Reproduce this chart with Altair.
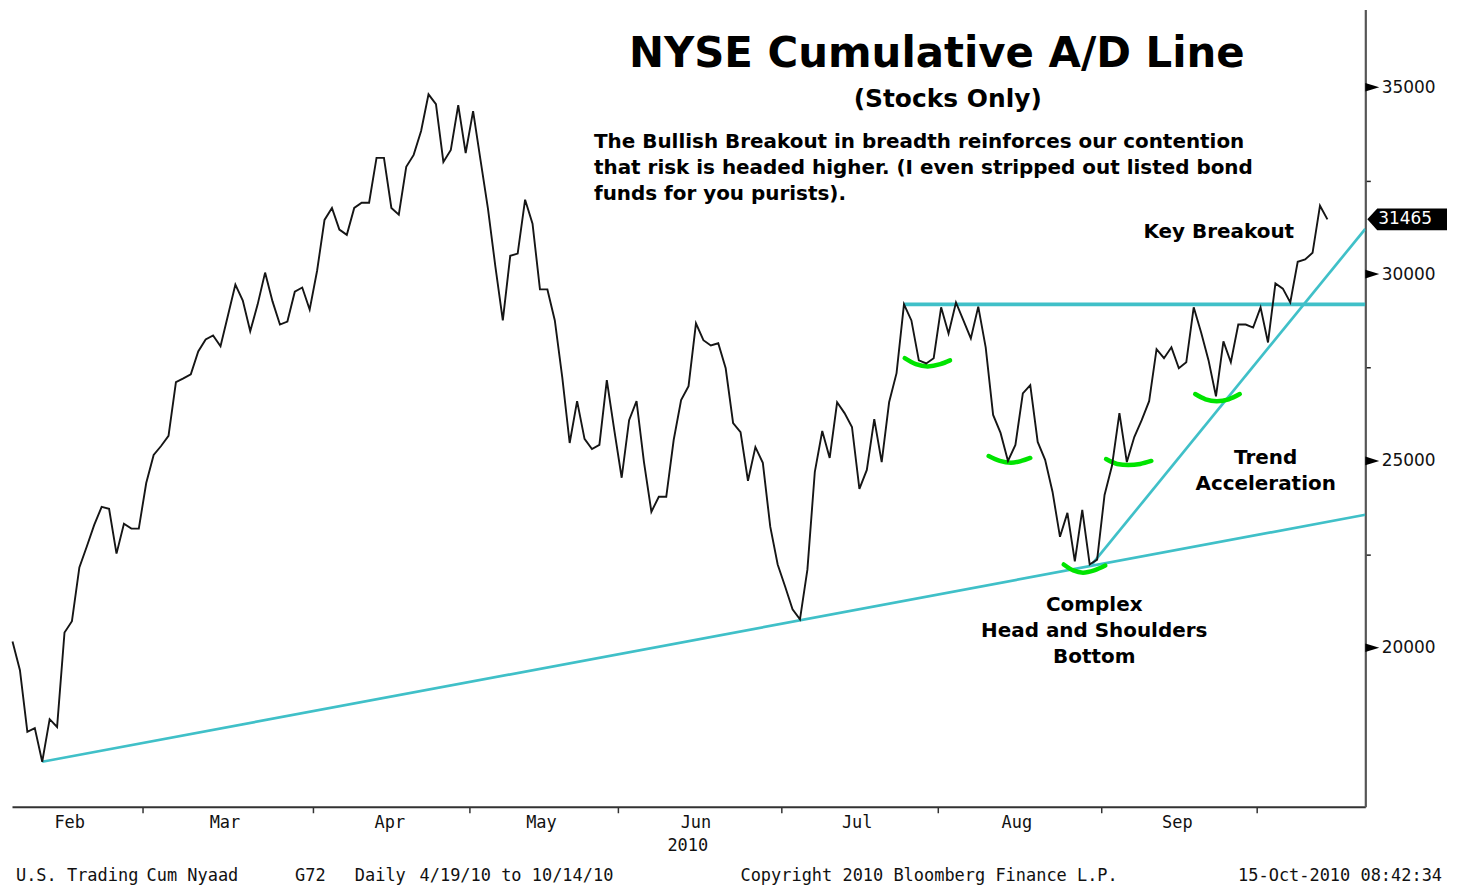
import altair as alt
import pandas as pd

# ---------------- data ----------------
ad_values = [
    20170, 19400, 17750, 17850, 16950, 18090, 17880, 20410, 20710, 22150,
    22710, 23290, 23770, 23720, 22520, 23320, 23190, 23190, 24410, 25160,
    25400, 25670, 27110, 27210, 27320, 27930, 28250, 28360, 28070, 28890,
    29720, 29290, 28470, 29190, 30040, 29270, 28650, 28730, 29530, 29640,
    29050, 30090, 31450, 31770, 31190, 31050, 31770, 31910, 31910, 33110,
    33110, 31770, 31590, 32870, 33190, 33830, 34810, 34550, 33000, 33320,
    34520, 33240, 34360, 33050, 31750, 30200, 28760, 30490, 30550, 31990,
    31350, 29590, 29590, 28760, 27240, 25480, 26600, 25590, 25320, 25430,
    27160, 25830, 24550, 26090, 26600, 24970, 23640, 24040, 24040, 25560,
    26630, 27000, 28680, 28230, 28090, 28150, 27480, 26010, 25770, 24470,
    25370, 24950, 23240, 22230, 21640, 21030, 20760, 22090, 24710, 25800,
    25080, 26570, 26280, 25910, 24250, 24760, 26120, 24970, 26570, 27350,
    29190, 28760, 27690, 27610, 27750, 29110, 28410, 29240, 28760, 28280,
    29130, 28040, 26230, 25750, 25000, 25430, 26810, 27030, 25510, 25030,
    24170, 22970, 23610, 22310, 23690, 22230, 22360, 24090, 24870, 26280,
    24970, 25640, 26090, 26600, 27990, 27750, 28040, 27480, 27640, 29110,
    28440, 27690, 26730, 28200, 27640, 28650, 28650, 28570, 29110, 28170,
    29750, 29610, 29240, 30330, 30390, 30570, 31830, 31465,
]
day_index = list(range(len(ad_values)))

month_boundaries = [17.5, 40.5, 61.5, 81.5, 103.5, 124.5, 146.5, 167.5]
month_labels = ["Feb", "Mar", "Apr", "May", "Jun", "Jul", "Aug", "Sep"]
month_label_pos = [7.7, 28.6, 50.8, 71.2, 92.0, 113.7, 135.2, 156.8]
year_label = ["2010"]
year_label_pos = [90.9]

y_ticks = [20000, 22500, 25000, 27500, 30000, 32500, 35000]
y_major = [20000, 25000, 30000, 35000]
last_value = [31465]
last_label = ["31465"]

support_x = [4, 182.1]
support_y = [16950, 23560]
neck_x = [120, 182.1]
neck_y = [29190, 29190]
accel_x = [145.3, 182.1]
accel_y = [22230, 31210]

smile_id = [1] * 5 + [2] * 5 + [3] * 5 + [4] * 5 + [5] * 5
smile_x = [120.1, 121.6, 123.2, 124.9, 126.2,
           131.4, 132.9, 134.4, 135.8, 137.0,
           147.2, 148.7, 150.2, 151.8, 153.3,
           159.2, 160.6, 162.1, 163.7, 165.2,
           141.5, 142.8, 144.1, 145.6, 147.1]
smile_y = [27750, 27590, 27530, 27590, 27690,
           25130, 25000, 24950, 25000, 25080,
           25050, 24920, 24890, 24920, 25000,
           26790, 26650, 26600, 26650, 26790,
           22230, 22070, 22010, 22070, 22200]

title_text = "NYSE Cumulative A/D Line"
subtitle_text = "(Stocks Only)"
comment_lines = [
    "The Bullish Breakout in breadth reinforces our contention",
    "that risk is headed higher. (I even stripped out listed bond",
    "funds for you purists).",
]
footer_left = ["U.S. Trading", "Cum Nyaad", "G72", "Daily", "4/19/10 to 10/14/10"]
footer_mid = "Copyright 2010 Bloomberg Finance L.P."
footer_right = "15-Oct-2010 08:42:34"

# ---------------- chart ----------------
W, H = 1358, 800
TEAL = "#40C0C8"
GREEN = "#00E400"

xs = alt.Scale(domain=[-0.07, 182.1], nice=False, zero=False)
ys = alt.Scale(domain=[15746, 37080], nice=False, zero=False)

xaxis = alt.Axis(values=month_boundaries, labels=False, ticks=True, tickSize=6,
                 tickColor="#333333", tickWidth=1.5, domainColor="#333333",
                 domainWidth=2, grid=False, title=None)
yaxis = alt.Axis(orient="right", values=y_ticks, format="d",
                 labelExpr="datum.value % 5000 === 0 ? datum.label : ''",
                 tickSize=5, tickColor="#222222", tickWidth=1.5,
                 domainColor="#555555", domainWidth=2.2,
                 labelFont="DejaVu Sans", labelFontSize=17, labelColor="#111111",
                 labelPadding=11, grid=False, title=None)


def X(field):
    return alt.X(field, scale=xs, axis=xaxis)


def Y(field):
    return alt.Y(field, scale=ys, axis=yaxis)


series = alt.Chart(pd.DataFrame({"x": day_index, "y": ad_values})).mark_line(
    color="#151515", strokeWidth=1.9).encode(x=X("x:Q"), y=Y("y:Q"))

support = alt.Chart(pd.DataFrame({"x": support_x, "y": support_y})).mark_line(
    color=TEAL, strokeWidth=2.7, clip=True).encode(x=X("x:Q"), y=Y("y:Q"))
neck = alt.Chart(pd.DataFrame({"x": neck_x, "y": neck_y})).mark_line(
    color=TEAL, strokeWidth=3.6, clip=True).encode(x=X("x:Q"), y=Y("y:Q"))
accel = alt.Chart(pd.DataFrame({"x": accel_x, "y": accel_y})).mark_line(
    color=TEAL, strokeWidth=2.7, clip=True).encode(x=X("x:Q"), y=Y("y:Q"))

smiles = alt.Chart(pd.DataFrame({"id": smile_id, "x": smile_x, "y": smile_y})).mark_line(
    color=GREEN, strokeWidth=4.5, interpolate="monotone", strokeCap="round").encode(
    x=X("x:Q"), y=Y("y:Q"), detail="id:N")

TRI = "M -1 -0.62 L 1 0 L -1 0.62 Z"
majors = alt.Chart(pd.DataFrame({"v": y_major})).mark_point(
    shape=TRI, filled=True, size=196, color="black", opacity=1, strokeWidth=0).encode(
    x=alt.value(W + 7), y=Y("v:Q"))

BOX = "M -1 0 L -0.75 -0.275 L 1 -0.275 L 1 0.275 L -0.75 0.275 Z"
last_df = pd.DataFrame({"v": last_value, "t": last_label})
last_box = alt.Chart(last_df).mark_point(
    shape=BOX, filled=True, size=6400, color="black", opacity=1, strokeWidth=0).encode(
    x=alt.value(W + 42), y=Y("v:Q"))
last_txt = alt.Chart(last_df).mark_text(
    font="DejaVu Sans", fontSize=17, color="white", align="center", baseline="middle").encode(
    x=alt.value(W + 40), y=Y("v:Q"), text="t:N")

months = alt.Chart(pd.DataFrame({"p": month_label_pos, "m": month_labels})).mark_text(
    font="DejaVu Sans Mono", fontSize=17, color="#111111", align="center", baseline="middle").encode(
    x=X("p:Q"), y=alt.value(H + 16), text="m:N")
year = alt.Chart(pd.DataFrame({"p": year_label_pos, "m": year_label})).mark_text(
    font="DejaVu Sans Mono", fontSize=17, color="#111111", align="center", baseline="middle").encode(
    x=X("p:Q"), y=alt.value(H + 39), text="m:N")


def label(text, x, y, size, font="DejaVu Sans", weight="bold", align="center", color="black"):
    return alt.Chart(pd.DataFrame({"t": [text]})).mark_text(
        font=font, fontSize=size, fontWeight=weight, align=align, baseline="middle",
        color=color).encode(x=alt.value(x), y=alt.value(y), text="t:N")


texts = [
    label(title_text, 928, 45, 42),
    label(subtitle_text, 939, 90, 25),
    label(comment_lines[0], 584, 133, 20, align="left"),
    label(comment_lines[1], 584, 159, 20, align="left"),
    label(comment_lines[2], 584, 185, 20, align="left"),
    label("Key Breakout", 1211, 223, 20),
    label("Trend", 1258, 450, 20),
    label("Acceleration", 1258, 476, 20),
    label("Complex", 1086, 598, 20),
    label("Head and Shoulders", 1086, 624, 20),
    label("Bottom", 1086, 650, 20),
]
foot_x = [4, 135, 284, 344, 409]
for t, fx in zip(footer_left, foot_x):
    texts.append(label(t, fx, H + 70, 17, font="DejaVu Sans Mono", weight="normal",
                       align="left", color="#111111"))
texts.append(label(footer_mid, 731, H + 70, 17, font="DejaVu Sans Mono", weight="normal",
                   align="left", color="#111111"))
texts.append(label(footer_right, 1435, H + 70, 17, font="DejaVu Sans Mono", weight="normal",
                   align="right", color="#111111"))

chart = alt.layer(
    support, neck, accel, smiles, series, majors, last_box, last_txt, months, year, *texts
).properties(
    width=W, height=H, background="white",
    padding={"left": 0, "top": 0, "right": 8, "bottom": 0},
).configure_view(stroke=None)

chart.save("out.html", embed_options={"renderer": "svg", "actions": False})
